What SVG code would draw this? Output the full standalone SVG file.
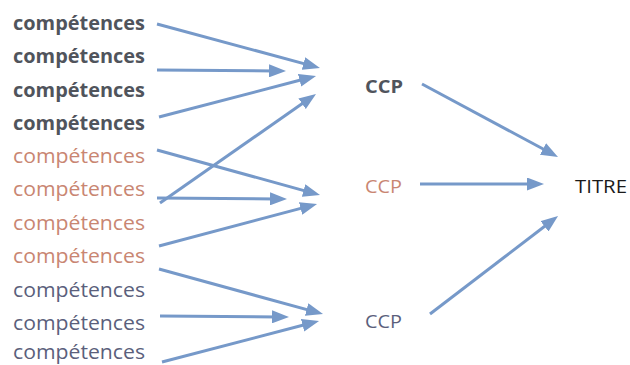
<svg xmlns="http://www.w3.org/2000/svg" width="630" height="365" viewBox="0 0 630 365">
<style>
text{font-family:"Open Sans","Liberation Sans",sans-serif;}
.c{font-size:20px;}
.b{font-weight:700;fill:#50545c;}
.o{fill:#c98672;}
.v{fill:#5b5f7c;}
.k{font-size:18px;}
.t{font-size:18px;fill:#1a1a1a;}
.a{stroke:#7699c9;stroke-width:3;fill:none;marker-end:url(#ah);}
</style>
<defs>
<marker id="ah" markerUnits="userSpaceOnUse" markerWidth="17" markerHeight="13" refX="6" refY="6.5" orient="auto">
<path d="M0,0 L17,6.5 L0,13 z" fill="#7699c9"/>
</marker>
</defs>
<g id="connectors">
<line class="a" x1="157" y1="24" x2="309.3" y2="65.1"/>
<line class="a" x1="157" y1="70" x2="275" y2="70.9"/>
<line class="a" x1="159" y1="117" x2="305.4" y2="78.8"/>
<line class="a" x1="160" y1="203" x2="307" y2="100.3"/>
<line class="a" x1="157" y1="150" x2="309.4" y2="192.1"/>
<line class="a" x1="157" y1="198" x2="276" y2="198.9"/>
<line class="a" x1="159" y1="246" x2="306.4" y2="206.9"/>
<line class="a" x1="159" y1="269" x2="312.4" y2="311.1"/>
<line class="a" x1="160" y1="316" x2="278" y2="316.9"/>
<line class="a" x1="162" y1="362" x2="308.4" y2="323.8"/>
<line class="a" x1="422" y1="84" x2="548.3" y2="151.8"/>
<line class="a" x1="420" y1="184" x2="533" y2="184"/>
<line class="a" x1="430" y1="314" x2="549.3" y2="222.7"/>
</g>
<g id="comp1"><text class="c b" x="13" y="30" textLength="132" lengthAdjust="spacingAndGlyphs">compétences</text></g>
<g id="comp2"><text class="c b" x="13" y="63" textLength="132" lengthAdjust="spacingAndGlyphs">compétences</text></g>
<g id="comp3"><text class="c b" x="13" y="97" textLength="132" lengthAdjust="spacingAndGlyphs">compétences</text></g>
<g id="comp4"><text class="c b" x="13" y="130" textLength="132" lengthAdjust="spacingAndGlyphs">compétences</text></g>
<g id="comp5"><text class="c o" x="13" y="163" textLength="132" lengthAdjust="spacingAndGlyphs">compétences</text></g>
<g id="comp6"><text class="c o" x="13" y="196" textLength="132" lengthAdjust="spacingAndGlyphs">compétences</text></g>
<g id="comp7"><text class="c o" x="13" y="230" textLength="132" lengthAdjust="spacingAndGlyphs">compétences</text></g>
<g id="comp8"><text class="c o" x="13" y="263" textLength="132" lengthAdjust="spacingAndGlyphs">compétences</text></g>
<g id="comp9"><text class="c v" x="13" y="297" textLength="132" lengthAdjust="spacingAndGlyphs">compétences</text></g>
<g id="comp10"><text class="c v" x="13" y="330" textLength="132" lengthAdjust="spacingAndGlyphs">compétences</text></g>
<g id="comp11"><text class="c v" x="13" y="359" textLength="132" lengthAdjust="spacingAndGlyphs">compétences</text></g>
<g id="ccp1"><text class="k b" x="365" y="93" textLength="38" lengthAdjust="spacingAndGlyphs">CCP</text></g>
<g id="ccp2"><text class="k o" x="365" y="193" textLength="37" lengthAdjust="spacingAndGlyphs">CCP</text></g>
<g id="ccp3"><text class="k v" x="365" y="328" textLength="37" lengthAdjust="spacingAndGlyphs">CCP</text></g>
<g id="titre"><text class="t" x="575" y="193" textLength="52" lengthAdjust="spacingAndGlyphs">TITRE</text></g>
</svg>
